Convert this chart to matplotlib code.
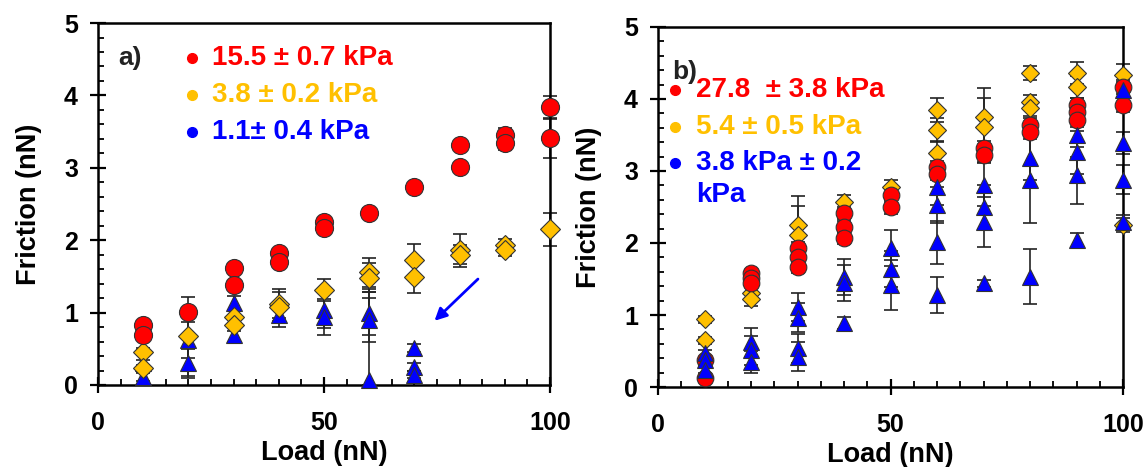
import matplotlib
matplotlib.use("Agg")
import matplotlib.pyplot as plt
from matplotlib.ticker import MultipleLocator

plt.rcParams['font.family'] = ['Liberation Sans', 'DejaVu Sans']
plt.rcParams['font.weight'] = 'bold'

RED = '#ff0000'
GOLD = '#ffc000'
BLUE = '#0000ff'

# ---- panel a) ----
red_a_load = [10, 10, 20, 30, 30, 40, 40, 50, 50, 60, 70, 80, 80, 90, 90, 100, 100]
red_a_fric = [0.83, 0.69, 1.01, 1.62, 1.38, 1.82, 1.70, 2.25, 2.17, 2.38, 2.73,
              3.31, 3.01, 3.45, 3.34, 3.84, 3.41]
red_a_err = [0.05, 0.05, 0.05, 0.05, 0.05, 0.05, 0.05, 0.05, 0.05, 0.06, 0.05,
             0.05, 0.05, 0.10, 0.10, 0.15, 0.27]

gold_a_load = [10, 10, 20, 30, 30, 40, 40, 50, 60, 60, 70, 70, 80, 80, 90, 90, 100]
gold_a_fric = [0.46, 0.23, 0.67, 0.94, 0.83, 1.12, 1.08, 1.31, 1.56, 1.48, 1.73,
               1.49, 1.86, 1.80, 1.93, 1.86, 2.15]
gold_a_err = [0.05, 0.05, 0.55, 0.08, 0.08, 0.20, 0.20, 0.15, 0.20, 0.20, 0.22,
              0.22, 0.23, 0.13, 0.08, 0.08, 0.23]

blue_a_load = [10, 10, 20, 20, 30, 30, 40, 50, 50, 60, 60, 60, 70, 70, 70]
blue_a_fric = [0.30, 0.11, 0.62, 0.30, 1.13, 0.69, 0.97, 1.04, 0.94, 0.99, 0.90,
               0.07, 0.51, 0.25, 0.14]
blue_a_err = [0.05, 0.05, 0.25, 0.20, 0.10, 0.10, 0.17, 0.25, 0.25, 0.30, 0.30,
              1.25, 0.05, 0.05, 0.05]

labels_a = ['15.5 ± 0.7 kPa', '3.8 ± 0.2 kPa', '1.1± 0.4 kPa']

# ---- panel b) ----
red_b_load = [10, 10, 20, 20, 20, 30, 30, 30, 40, 40, 40, 50, 50, 60, 60, 70, 70,
              80, 80, 90, 90, 90, 100, 100]
red_b_fric = [0.37, 0.12, 1.58, 1.51, 1.44, 1.93, 1.81, 1.67, 2.42, 2.22, 2.07,
              2.67, 2.50, 3.06, 2.96, 3.32, 3.22, 3.64, 3.54, 3.92, 3.82, 3.71,
              4.17, 3.92]
red_b_err = [0.05, 0.05, 0.05, 0.05, 0.05, 0.08, 0.08, 0.08, 0.08, 0.08, 0.08,
             0.10, 0.10, 0.08, 0.08, 0.10, 0.10, 0.10, 0.10, 0.10, 0.10, 0.10,
             0.10, 0.10]

gold_b_load = [10, 10, 20, 20, 30, 30, 40, 50, 60, 60, 60, 70, 70, 80, 80, 80,
               90, 90, 100, 100]
gold_b_fric = [0.94, 0.65, 1.30, 1.22, 2.25, 2.11, 2.57, 2.78, 3.85, 3.57, 3.25,
               3.75, 3.61, 4.36, 3.96, 3.87, 4.36, 4.17, 4.33, 2.25]
gold_b_err = [0.05, 0.05, 0.10, 0.10, 0.40, 0.40, 0.10, 0.10, 0.17, 0.17, 0.17,
              0.40, 0.40, 0.10, 0.10, 0.10, 0.15, 0.15, 0.15, 0.10]

blue_b_load = [10, 10, 10, 20, 20, 20, 30, 30, 30, 30, 40, 40, 40, 50, 50, 50,
               60, 60, 60, 60, 70, 70, 70, 70, 80, 80, 80, 90, 90, 90, 90,
               100, 100, 100, 100]
blue_b_fric = [0.47, 0.37, 0.24, 0.62, 0.51, 0.35, 1.11, 0.96, 0.54, 0.42,
               1.53, 1.44, 0.89, 1.93, 1.64, 1.42, 2.78, 2.53, 2.01, 1.28,
               2.81, 2.50, 2.29, 1.44, 3.18, 2.88, 1.53, 3.50, 3.26, 2.94, 2.04,
               4.13, 3.39, 2.88, 2.29]
blue_b_err = [0.05, 0.05, 0.05, 0.20, 0.20, 0.15, 0.20, 0.20, 0.20, 0.20,
              0.25, 0.25, 0.08, 0.25, 0.25, 0.35, 0.25, 0.25, 0.30, 0.25,
              0.30, 0.30, 0.35, 0.05, 0.30, 0.60, 0.38, 0.30, 0.30, 0.40, 0.10,
              0.10, 0.15, 0.20, 0.10]

labels_b = ['27.8  ± 3.8 kPa', '5.4 ± 0.5 kPa', '3.8 kPa ± 0.2\nkPa']


def style_axes(ax):
    ax.set_xlim(0, 100)
    ax.set_ylim(0, 5)
    ax.xaxis.set_major_locator(MultipleLocator(50))
    ax.xaxis.set_minor_locator(MultipleLocator(5))
    ax.yaxis.set_major_locator(MultipleLocator(1))
    ax.yaxis.set_minor_locator(MultipleLocator(0.2))
    ax.tick_params(which='major', direction='inout', length=11, width=1.6,
                   labelsize=18)
    ax.tick_params(which='minor', direction='in', length=4.5, width=1.3)
    ax.tick_params(axis='x', which='major', pad=13)
    ax.tick_params(axis='y', which='major', pad=9)
    ax.tick_params(top=False, right=False, which='both')
    for s in ax.spines.values():
        s.set_linewidth(1.8)
    ax.set_xlabel('Load (nN)', fontsize=19.5, fontweight='bold', labelpad=4)
    ax.set_ylabel('Friction (nN)', fontsize=19.5, fontweight='bold', labelpad=16)


def draw_series(ax, load, fric, err, color, marker, size, z):
    # lower error arms stop at the x axis
    lower = [min(e, v) for e, v in zip(err, fric)]
    ax.errorbar(load, fric, yerr=[lower, err], fmt='none', ecolor='#222222',
                elinewidth=1.2, capsize=5, capthick=1.2, zorder=2, clip_on=False)
    ax.plot(load, fric, linestyle='none', marker=marker, markersize=size,
            markerfacecolor=color, markeredgecolor='#333333', markeredgewidth=0.8,
            zorder=z, clip_on=False)


def draw_key(ax, x, ys, labels, colors, step):
    # coloured dot + text rows; wrapped labels continue on the next row
    for y, lab, c in zip(ys, labels, colors):
        ax.plot([x], [y], marker='o', markersize=7, color=c,
                transform=ax.transAxes, clip_on=False)
        for i, line in enumerate(lab.split('\n')):
            ax.text(x + 0.045, y - i * step, line, color=c, fontsize=20,
                    fontweight='bold', transform=ax.transAxes,
                    va='center', ha='left')


fig = plt.figure(figsize=(11.48, 4.67), dpi=100)
ax_a = fig.add_axes([0.0854, 0.1756, 0.3937, 0.7751])
ax_b = fig.add_axes([0.5732, 0.1713, 0.4051, 0.7709])

draw_series(ax_a, blue_a_load, blue_a_fric, blue_a_err, BLUE, '^', 12, 3)
draw_series(ax_a, gold_a_load, gold_a_fric, gold_a_err, GOLD, 'D', 10, 4)
draw_series(ax_a, red_a_load, red_a_fric, red_a_err, RED, 'o', 13, 5)
style_axes(ax_a)
ax_a.text(0.044, 0.903, 'a)', transform=ax_a.transAxes, fontsize=19,
          fontweight='bold', va='center', ha='left', color='#222222')
draw_key(ax_a, 0.208, [0.903, 0.801, 0.699], labels_a, [RED, GOLD, BLUE], 0.1)
ax_a.annotate('', xy=(74, 0.86), xytext=(84.5, 1.49),
              arrowprops=dict(arrowstyle='-|>', color=BLUE, lw=2,
                              mutation_scale=18))

draw_series(ax_b, gold_b_load, gold_b_fric, gold_b_err, GOLD, 'D', 9, 3)
draw_series(ax_b, red_b_load, red_b_fric, red_b_err, RED, 'o', 12, 4)
draw_series(ax_b, blue_b_load, blue_b_fric, blue_b_err, BLUE, '^', 11, 5)
style_axes(ax_b)
ax_b.text(0.03, 0.875, 'b)', transform=ax_b.transAxes, fontsize=19,
          fontweight='bold', va='center', ha='left', color='#222222')
draw_key(ax_b, 0.037, [0.825, 0.722, 0.622], labels_b, [RED, GOLD, BLUE], 0.089)

fig.savefig('out.png', dpi=100)
